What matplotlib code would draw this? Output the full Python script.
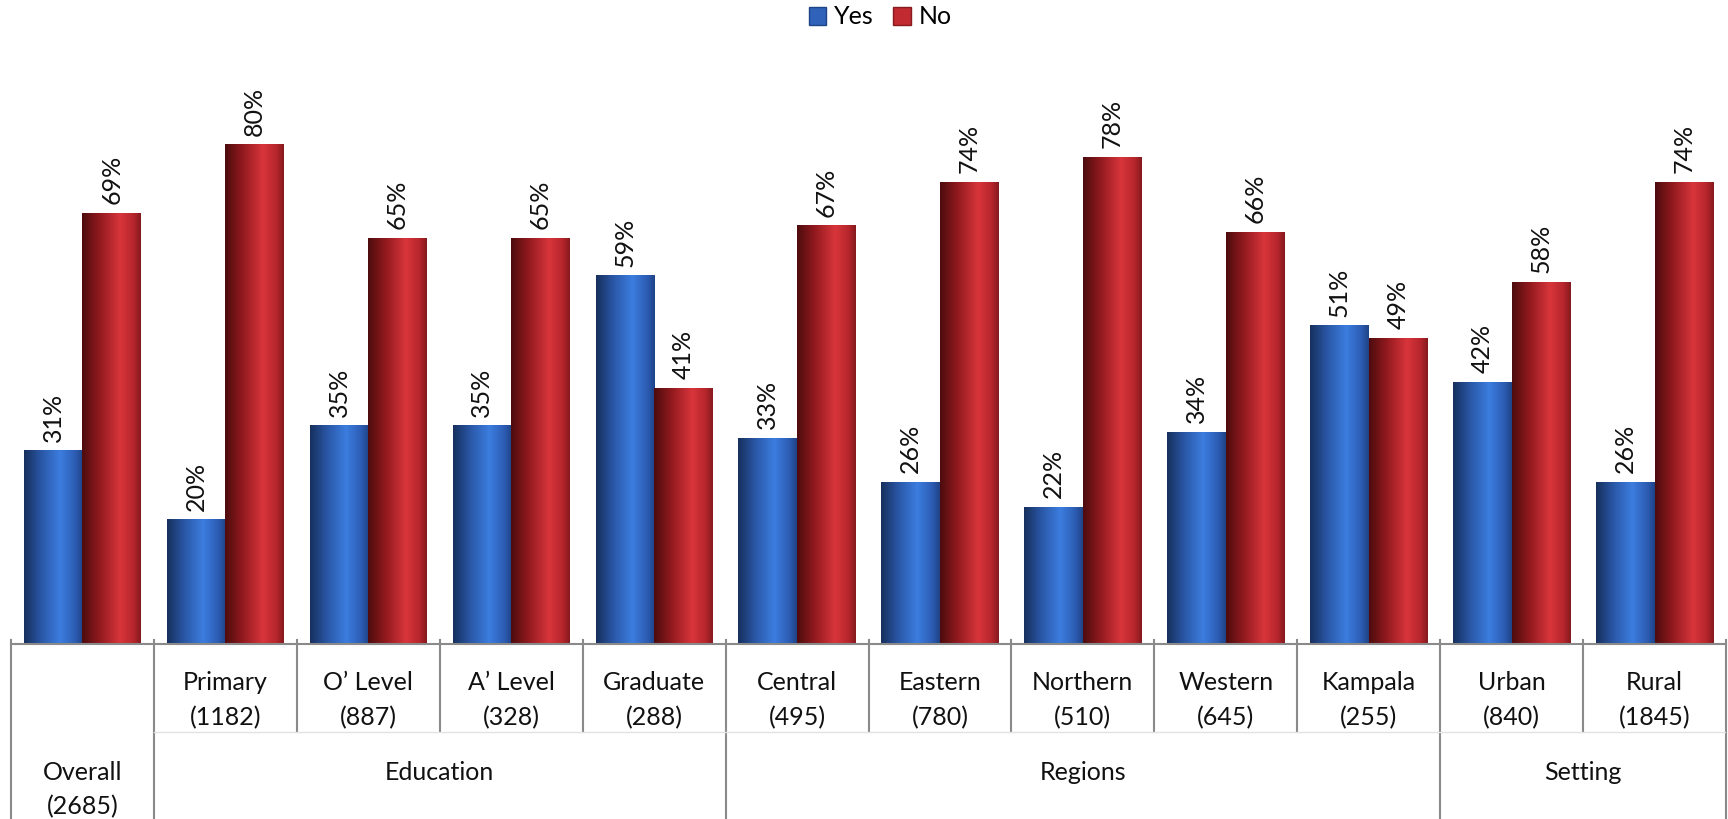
import matplotlib
matplotlib.use("Agg")
import matplotlib.pyplot as plt
import numpy as np
from matplotlib.patches import Patch

plt.rcParams['font.family'] = ['Lato', 'DejaVu Sans']

# data
labels = ['Overall', 'Primary', "O\u2019 Level", "A\u2019 Level", 'Graduate',
          'Central', 'Eastern', 'Northern', 'Western', 'Kampala', 'Urban', 'Rural']
counts = [2685, 1182, 887, 328, 288, 495, 780, 510, 645, 255, 840, 1845]
yes = [31, 20, 35, 35, 59, 33, 26, 22, 34, 51, 42, 26]
no = [69, 80, 65, 65, 41, 67, 74, 78, 66, 49, 58, 74]
groups = ['Education', 'Regions', 'Setting']
group_spans = [(1, 4), (5, 9), (10, 11)]

W, H = 1728, 819
base_px = 644
fig = plt.figure(figsize=(W / 100, H / 100), dpi=100)
left, right = 11 / W, 1726 / W
ax = fig.add_axes([left, (H - base_px) / H, right - left, base_px / H])
tab = fig.add_axes([left, 0, right - left, (H - base_px) / H])

x = np.arange(len(labels))
bw = 0.41

blue_stops = [(0.0, '#17305e'), (0.3, '#2a58a8'), (0.62, '#3c7ddf'), (0.88, '#2c5cb2'), (1.0, '#1f4488')]
red_stops = [(0.0, '#4e0c0e'), (0.3, '#921a1f'), (0.65, '#d8353b'), (0.88, '#b6262c'), (1.0, '#861a1e')]


def grad(stops, n=64):
    pos = np.array([s[0] for s in stops])
    cols = np.array([matplotlib.colors.to_rgb(s[1]) for s in stops])
    t = np.linspace(0, 1, n)
    arr = np.stack([np.interp(t, pos, cols[:, k]) for k in range(3)], axis=-1)
    return arr[np.newaxis, :, :]


blue_img = grad(blue_stops)
red_img = grad(red_stops)

bars_y = ax.bar(x - bw / 2, yes, bw, color='none', edgecolor='none')
bars_n = ax.bar(x + bw / 2, no, bw, color='none', edgecolor='none')
for bars, img in [(bars_y, blue_img), (bars_n, red_img)]:
    for b in bars:
        x0, h = b.get_x(), b.get_height()
        im = ax.imshow(img, extent=[x0, x0 + b.get_width(), 0, h], aspect='auto',
                       interpolation='bilinear', zorder=2)
        im.set_clip_path(b)

for bars, vals in [(bars_y, yes), (bars_n, no)]:
    for b, v in zip(bars, vals):
        ax.annotate(f'{v}%', (b.get_x() + b.get_width() / 2, v), xytext=(0, 6),
                    textcoords='offset points', rotation=90, ha='center', va='bottom',
                    fontsize=18, color='#111111')

ax.set_xlim(-0.5, len(labels) - 0.5)
ax.set_ylim(0, base_px / 6.25)
for s in ['top', 'left', 'right']:
    ax.spines[s].set_visible(False)
ax.spines['bottom'].set_color('#8a8a8a')
ax.spines['bottom'].set_linewidth(1.5)
ax.set_xticks([])
ax.set_yticks([])

# category table below the axis
tab.set_xlim(-0.5, len(labels) - 0.5)
tab.set_ylim(H - base_px, 0)
tab.axis('off')
lc = '#8a8a8a'
group_edges = [-0.5, 0.5, 4.5, 9.5, 11.5]
for k in range(len(labels) + 1):
    xe = k - 0.5
    if xe in group_edges:
        tab.plot([xe, xe], [-4, H - base_px], color=lc, lw=1.5, clip_on=False)
    else:
        tab.plot([xe, xe], [-4, 88], color=lc, lw=1.5, clip_on=False)
tab.plot([0.5, 11.5], [88, 88], color='#e2e2e2', lw=1)

for i in range(1, len(labels)):
    tab.text(i, 39, labels[i], ha='center', va='center', fontsize=18, color='#111111')
    tab.text(i, 74, f'({counts[i]})', ha='center', va='center', fontsize=18, color='#111111')
tab.text(0, 128, labels[0], ha='center', va='center', fontsize=18, color='#111111')
tab.text(0, 163, f'({counts[0]})', ha='center', va='center', fontsize=18, color='#111111', clip_on=False)
for g, (a, b) in zip(groups, group_spans):
    tab.text((a + b) / 2, 128, g, ha='center', va='center', fontsize=18, color='#111111')

handles = [Patch(facecolor='#2f62b8', edgecolor='#1f4488'), Patch(facecolor='#c02a30', edgecolor='#861a1e')]
fig.legend(handles, ['Yes', 'No'], loc='center', bbox_to_anchor=(880 / W, 1 - 17 / H),
           ncol=2, frameon=False, fontsize=18, handlelength=0.7, handleheight=0.7,
           handletextpad=0.3, columnspacing=0.8)

fig.savefig('out.png', dpi=100)
